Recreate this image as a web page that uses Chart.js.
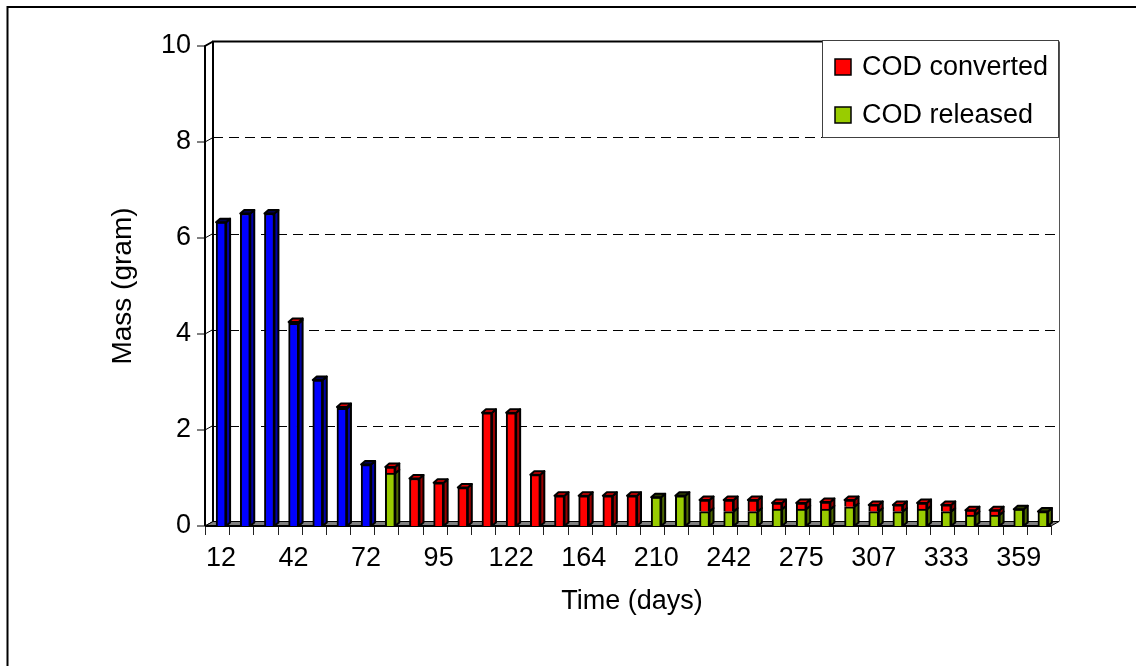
<!DOCTYPE html>
<html>
<head>
<meta charset="utf-8">
<title>COD mass balance</title>
<script src="https://cdn.jsdelivr.net/npm/chart.js@4.4.1/dist/chart.umd.min.js"></script>
<style>
  html, body { margin: 0; padding: 0; background: #fff; }
  canvas { display: block; }
</style>
</head>
<body>
<canvas id="codChart" width="1136" height="666"></canvas>
<script>
// sampling days, only every third one is printed on the axis
const days = [12, 22, 32, 42, 52, 62, 72, 80, 88, 95, 104, 113, 122, 136, 150, 164, 180, 195,
              210, 221, 231, 242, 253, 264, 275, 286, 296, 307, 316, 324, 333, 342, 350, 359, 366];

// COD in the reactor during start-up (gram), blue bars
const codStart = [6.33, 6.51, 6.51, 4.22, 3.04, 2.45, 1.28,
                  null, null, null, null, null, null, null, null, null, null, null, null, null, null,
                  null, null, null, null, null, null, null, null, null, null, null, null, null, null];

// COD converted (gram)
const codConverted = [null, null, null, 0.03, null, 0.03, null,
                      0.13, 0.99, 0.90, 0.80, 2.36, 2.36, 1.07, 0.63, 0.63, 0.63, 0.63, null, null,
                      0.24, 0.24, 0.24, 0.13, 0.13, 0.15, 0.14, 0.14, 0.14, 0.13, 0.14, 0.10, 0.10, null, null];

// COD released (gram)
const codReleased = [null, null, null, null, null, null, null,
                     1.10, null, null, null, null, null, null, null, null, null, null, 0.60, 0.63,
                     0.30, 0.30, 0.30, 0.35, 0.35, 0.35, 0.40, 0.30, 0.30, 0.35, 0.30, 0.23, 0.23, 0.35, 0.30];

const yTicks = [0, 2, 4, 6, 8, 10];

const FONT = "'Liberation Sans', Arial, sans-serif";
Chart.defaults.font.family = FONT;
Chart.defaults.color = '#000';

// depth of the floor / walls and of each bar; bars stand half way into the floor
const WALL_DX = 8, WALL_DY = 4.5;
const BAR_DX = 4, BAR_DY = 3.5;
const FRONT = WALL_DX / 2;

// front axes, walls, floor and dashed grid behind the bars
const frame3d = {
  id: 'frame3d',
  beforeDatasetsDraw(chart) {
    const { ctx, chartArea: a, scales: { x, y } } = chart;
    const x0 = a.left - FRONT, x1 = a.right - FRONT;   // front edge of the floor
    const bx = x0 + WALL_DX, bRight = x1 + WALL_DX;    // back wall
    const f = y.getPixelForValue(0);
    const top = y.getPixelForValue(10);
    ctx.save();

    // back wall grid
    ctx.strokeStyle = '#000';
    ctx.lineWidth = 1;
    ctx.setLineDash([10, 6]);
    yTicks.forEach(v => {
      if (v === 0 || v === 10) return;
      const py = Math.round(y.getPixelForValue(v) - WALL_DY) + 0.5;
      ctx.beginPath();
      ctx.moveTo(bx, py);
      ctx.lineTo(bRight, py);
      ctx.stroke();
    });
    ctx.setLineDash([]);

    // back wall edges
    ctx.strokeStyle = '#555';
    ctx.beginPath();
    ctx.moveTo(bRight + 0.5, top - WALL_DY);
    ctx.lineTo(bRight + 0.5, f - WALL_DY);
    ctx.stroke();

    ctx.strokeStyle = '#000';
    ctx.lineWidth = 2;
    ctx.beginPath();
    ctx.moveTo(bRight, top - WALL_DY);
    ctx.lineTo(bx, top - WALL_DY);
    ctx.lineTo(bx, f - WALL_DY);
    ctx.stroke();

    // side wall: tick lines running back, top edge, front axis and tick marks
    ctx.lineWidth = 1;
    yTicks.forEach(v => {
      const py = y.getPixelForValue(v);
      ctx.beginPath();
      ctx.moveTo(x0, py);
      ctx.lineTo(bx, py - WALL_DY);
      ctx.moveTo(x0 - 8, py);
      ctx.lineTo(x0, py);
      ctx.stroke();
    });
    ctx.lineWidth = 2;
    ctx.beginPath();
    ctx.moveTo(bx, top - WALL_DY);
    ctx.lineTo(x0, top);
    ctx.lineTo(x0, f);
    ctx.stroke();

    // floor
    ctx.fillStyle = '#808080';
    ctx.lineWidth = 1;
    ctx.beginPath();
    ctx.moveTo(x0, f);
    ctx.lineTo(bx, f - WALL_DY);
    ctx.lineTo(bRight, f - WALL_DY);
    ctx.lineTo(x1, f);
    ctx.closePath();
    ctx.fill();
    ctx.stroke();

    // category tick marks on the front edge of the floor
    const n = days.length;
    const step = x.getPixelForValue(1) - x.getPixelForValue(0);
    ctx.strokeStyle = '#222';
    ctx.beginPath();
    for (let i = 0; i <= n; i++) {
      const px = Math.round(x.getPixelForValue(0) - step / 2 + i * step - FRONT) + 0.5;
      ctx.moveTo(px, f);
      ctx.lineTo(px, f + 9);
    }
    ctx.stroke();
    ctx.strokeStyle = '#000';
    ctx.lineWidth = 2;
    ctx.beginPath();
    ctx.moveTo(x0, f);
    ctx.lineTo(x1, f);
    ctx.stroke();
    ctx.restore();
  }
};

// side and top faces for every bar segment
const bars3d = {
  id: 'bars3d',
  afterDatasetsDraw(chart) {
    const { ctx } = chart;
    const n = days.length;
    ctx.save();
    ctx.strokeStyle = '#000';
    ctx.lineWidth = 2;
    ctx.lineJoin = 'round';
    for (let i = 0; i < n; i++) {
      let topSeg = null;
      chart.data.datasets.forEach((ds, di) => {
        if (ds.data[i] == null) return;
        const el = chart.getDatasetMeta(di).data[i];
        const { x, y, base, width } = el.getProps(['x', 'y', 'base', 'width'], true);
        const left = x - width / 2, right = x + width / 2;
        const t = Math.min(y, base), b = Math.max(y, base);
        ctx.fillStyle = ds.sideColor;
        ctx.beginPath();
        ctx.moveTo(right, t);
        ctx.lineTo(right + BAR_DX, t - BAR_DY);
        ctx.lineTo(right + BAR_DX, b - BAR_DY);
        ctx.lineTo(right, b);
        ctx.closePath();
        ctx.fill();
        ctx.stroke();
        if (!topSeg || t < topSeg.t) topSeg = { left, right, t, color: ds.topColor };
      });
      if (topSeg) {
        ctx.fillStyle = topSeg.color;
        ctx.beginPath();
        ctx.moveTo(topSeg.left, topSeg.t);
        ctx.lineTo(topSeg.left + BAR_DX, topSeg.t - BAR_DY);
        ctx.lineTo(topSeg.right + BAR_DX, topSeg.t - BAR_DY);
        ctx.lineTo(topSeg.right, topSeg.t);
        ctx.closePath();
        ctx.fill();
        ctx.stroke();
      }
    }
    ctx.restore();
  }
};

// boxed legend in the upper right, plus the outer frame
const boxLegend = {
  id: 'boxLegend',
  afterDraw(chart) {
    const { ctx, chartArea: a } = chart;
    const items = [chart.data.datasets[2], chart.data.datasets[0]];
    const bx = a.right - 233, by = 40;
    ctx.save();
    ctx.fillStyle = '#fff';
    ctx.fillRect(bx, by, 237, 98);
    ctx.strokeStyle = '#404040';
    ctx.lineWidth = 1;
    ctx.strokeRect(bx + 0.5, by + 0.5, 236, 97);
    ctx.font = '27px ' + FONT;
    ctx.textBaseline = 'middle';
    items.forEach((ds, k) => {
      const cy = by + 27 + k * 48;
      ctx.fillStyle = ds.backgroundColor;
      ctx.fillRect(bx + 13, cy - 8, 16, 16);
      ctx.strokeStyle = '#000';
      ctx.lineWidth = 1.5;
      ctx.strokeRect(bx + 13, cy - 8, 16, 16);
      ctx.fillStyle = '#000';
      ctx.fillText(ds.label, bx + 40, cy + 1);
    });

    // outer frame
    ctx.strokeStyle = '#000';
    ctx.lineWidth = 2;
    ctx.beginPath();
    ctx.moveTo(7.5, chart.height);
    ctx.lineTo(7.5, 7);
    ctx.lineTo(chart.width, 7);
    ctx.stroke();
    ctx.restore();
  }
};

new Chart(document.getElementById('codChart'), {
  type: 'bar',
  data: {
    labels: days,
    datasets: [
      {
        label: 'COD released',
        data: codReleased,
        backgroundColor: '#99CC00',
        sideColor: '#4C6600',
        topColor: '#2E3D00'
      },
      {
        label: 'COD start',
        data: codStart,
        backgroundColor: '#0000FF',
        sideColor: '#0000A8',
        topColor: '#000050'
      },
      {
        label: 'COD converted',
        data: codConverted,
        backgroundColor: '#FF0000',
        sideColor: '#990000',
        topColor: '#E00000'
      }
    ]
  },
  options: {
    responsive: false,
    animation: false,
    devicePixelRatio: 1,
    layout: { padding: { top: 46, right: 81, bottom: 0, left: 0 } },
    datasets: {
      bar: { barThickness: 10, borderWidth: 2, borderColor: '#000' }
    },
    plugins: {
      legend: { display: false },
      tooltip: { enabled: false }
    },
    scales: {
      x: {
        stacked: true,
        grid: { display: false },
        border: { display: false },
        ticks: {
          autoSkip: false,
          maxRotation: 0,
          padding: 8,
          font: { size: 27 },
          callback: (v, i) => (i % 3 === 0 ? days[i] : '')
        },
        title: { display: true, text: 'Time (days)', font: { size: 27 }, padding: { top: 0, bottom: 48 } },
        afterFit: s => { s.height = 140; }
      },
      y: {
        stacked: true,
        min: 0,
        max: 10,
        afterBuildTicks: s => { s.ticks = yTicks.map(v => ({ value: v })); },
        grid: { display: false },
        border: { display: false },
        ticks: { padding: 10, font: { size: 27 } },
        title: { display: true, text: 'Mass (gram)', font: { size: 28 }, padding: { top: 106, bottom: 0 } },
        afterFit: s => { s.width = 209; }
      }
    }
  },
  plugins: [frame3d, bars3d, boxLegend]
});
</script>
</body>
</html>
